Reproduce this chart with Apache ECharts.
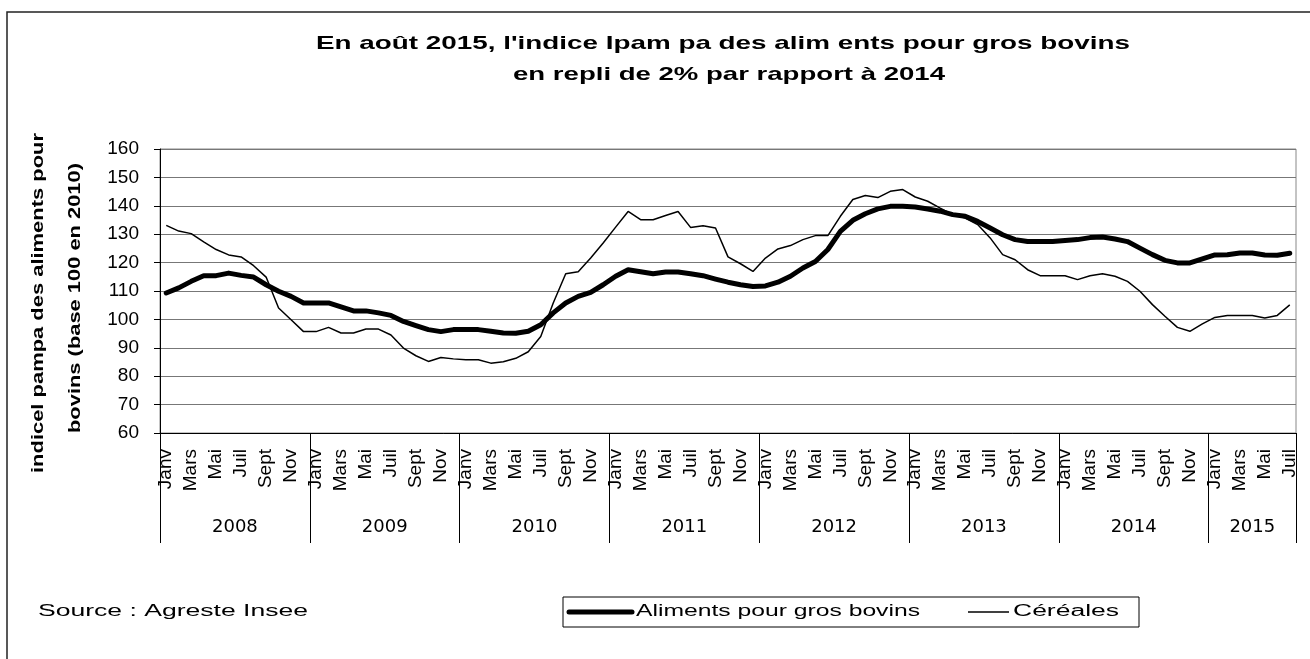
<!DOCTYPE html>
<html>
<head>
<meta charset="utf-8">
<title>Indice Ipampa aliments pour gros bovins</title>
<script src="https://cdn.jsdelivr.net/npm/echarts@6/dist/echarts.min.js"></script>
<style>
    html, body { margin: 0; padding: 0; background: #fff; }
    #chart { width: 1310px; height: 659px; }
</style>
</head>
<body>
<div id="chart"></div>
<script>
// Data (Jan 2008 - Jul 2015)
const years = [2008, 2009, 2010, 2011, 2012, 2013, 2014, 2015];
const monthNames = ['Janv', 'Févr', 'Mars', 'Avr', 'Mai', 'Juin', 'Juil', 'Août', 'Sept', 'Oct', 'Nov', 'Déc'];
const monthsIn2015 = 7;
const seriesNames = ['Aliments pour gros bovins', 'Céréales'];

const aliments = [
    109.3, 111.1, 113.4, 115.4, 115.4, 116.3, 115.5, 114.9, 112.2, 109.9, 108.1, 105.8,
    105.8, 105.8, 104.4, 103.0, 103.0, 102.3, 101.4, 99.3, 97.8, 96.4, 95.7, 96.4,
    96.4, 96.4, 95.8, 95.2, 95.1, 95.8, 98.1, 102.3, 105.8, 108.1, 109.5, 112.2,
    115.2, 117.5, 116.8, 116.1, 116.7, 116.7, 116.1, 115.4, 114.2, 113.1, 112.2, 111.6,
    111.8, 113.1, 115.2, 118.1, 120.4, 124.6, 131.0, 134.9, 137.2, 138.9, 139.8, 139.8,
    139.6, 138.9, 138.1, 136.9, 136.3, 134.5, 132.2, 129.8, 128.1, 127.4, 127.4, 127.4,
    127.8, 128.1, 128.8, 129.0, 128.3, 127.4, 125.1, 122.8, 120.8, 119.9, 119.9, 121.3,
    122.7, 122.8, 123.4, 123.4, 122.7, 122.6, 123.3
];

const cereales = [
    133.1, 131.1, 130.2, 127.3, 124.6, 122.7, 122.0, 118.9, 114.9, 104.0, 99.9, 95.7,
    95.7, 97.2, 95.2, 95.2, 96.6, 96.6, 94.5, 89.9, 87.2, 85.2, 86.6, 86.1,
    85.8, 85.8, 84.6, 85.1, 86.3, 88.6, 94.0, 105.8, 116.1, 116.8, 121.6, 126.9,
    132.5, 138.0, 135.1, 135.1, 136.6, 138.0, 132.4, 133.0, 132.2, 122.0, 119.6, 116.9,
    121.6, 124.8, 126.0, 128.1, 129.5, 129.5, 136.3, 142.2, 143.6, 142.9, 145.1, 145.7,
    143.1, 141.6, 139.2, 136.9, 135.7, 133.4, 128.7, 122.8, 121.0, 117.5, 115.4, 115.4,
    115.4, 114.0, 115.4, 116.1, 115.2, 113.4, 109.9, 105.2, 101.1, 97.2, 95.8, 98.4,
    100.7, 101.4, 101.4, 101.4, 100.5, 101.4, 105.1
];

// Build month categories and year groups
const categories = [];
years.forEach((y, k) => {
    const n = k === years.length - 1 ? monthsIn2015 : 12;
    for (let m = 0; m < n; m++) categories.push(monthNames[m] + ' ' + y);
});
const total = categories.length;
const yearBounds = years.map((y, k) => k * 12).concat([total]);
const yearMids = years.map((y, k) => (yearBounds[k] + yearBounds[k + 1]) / 2);

const plain = 'Liberation Sans, Arial, sans-serif';
const wide = 'DejaVu Sans';

// the original text is letter-spaced; stretch text to the width it takes there
const measureCtx = document.createElement('canvas').getContext('2d');
function stretched(text, x, y, width, size, weight, align, rotation) {
    measureCtx.font = weight + ' ' + size + 'px ' + plain;
    const w = measureCtx.measureText(text).width;
    return {
        type: 'text',
        silent: true,
        x: x, y: y,
        rotation: rotation || 0,
        scaleX: width / w,
        style: {
            text: text,
            fontFamily: plain, fontSize: size, fontWeight: weight, fill: '#000',
            align: align, verticalAlign: 'middle'
        }
    };
}

const chart = echarts.init(document.getElementById('chart'));

chart.setOption({
    animation: false,
    grid: {
        left: 160, right: 14, top: 149, bottom: 226,
        show: true, borderColor: '#888', borderWidth: 1
    },
    xAxis: [{
        type: 'category',
        data: categories,
        boundaryGap: true,
        axisLine: { lineStyle: { color: '#000', width: 1 } },
        axisTick: { interval: 0, inside: true, length: 4, lineStyle: { color: '#000' } },
        axisLabel: {
            interval: 1,
            rotate: 90,
            margin: 16,
            fontFamily: plain,
            fontSize: 19,
            color: '#000',
            formatter: (v) => v.split(' ')[0]
        }
    }, {
        // year groups below the month labels
        type: 'value',
        position: 'bottom',
        min: 0,
        max: total,
        axisLine: { show: false },
        splitLine: { show: false },
        axisTick: { show: true, customValues: yearBounds, length: 110, lineStyle: { color: '#000' } },
        axisLabel: {
            customValues: yearMids,
            margin: 85,
            fontFamily: wide,
            fontSize: 18,
            color: '#000',
            formatter: (v) => String(years[Math.floor(v / 12)])
        }
    }],
    yAxis: {
        type: 'value',
        min: 60,
        max: 160,
        interval: 10,
        axisLine: { show: true, lineStyle: { color: '#000' } },
        axisTick: { show: true, length: 6, lineStyle: { color: '#000' } },
        axisLabel: { margin: 21, fontFamily: plain, fontSize: 19, color: '#000' },
        splitLine: { lineStyle: { color: '#777', width: 1 } }
    },
    series: [{
        name: seriesNames[0],
        type: 'line',
        data: aliments,
        symbol: 'none',
        color: '#000',
        lineStyle: { width: 5, color: '#000', join: 'round', cap: 'round' }
    }, {
        name: seriesNames[1],
        type: 'line',
        data: cereales,
        symbol: 'none',
        color: '#000',
        lineStyle: { width: 1.5, color: '#000' }
    }],
    graphic: [
        // outer frame
        {
            type: 'rect', silent: true,
            shape: { x: 7, y: 12, width: 1320, height: 670 },
            style: { fill: 'none', stroke: '#222', lineWidth: 1.5 }
        },
        // title
        stretched("En août 2015, l'indice Ipam pa des alim ents pour gros bovins", 723, 44, 814, 19, 'bold', 'center'),
        stretched('en repli de 2% par rapport à 2014', 729, 75, 432, 19, 'bold', 'center'),
        // y axis name, two lines
        stretched('indicel pampa des aliments pour', 38, 303, 340, 17, 'bold', 'center', Math.PI / 2),
        stretched('bovins (base 100 en 2010)', 75, 298, 270, 17, 'bold', 'center', Math.PI / 2),
        // source
        stretched('Source : Agreste Insee', 38, 612, 270, 16, 'normal', 'left'),
        // legend box
        {
            type: 'rect', silent: true,
            shape: { x: 563, y: 597, width: 576, height: 30 },
            style: { fill: '#fff', stroke: '#000', lineWidth: 1 }
        },
        {
            type: 'line', silent: true,
            shape: { x1: 569, y1: 612, x2: 632, y2: 612 },
            style: { stroke: '#000', lineWidth: 5, lineCap: 'round' }
        },
        stretched(seriesNames[0], 636, 612, 284, 16, 'normal', 'left'),
        {
            type: 'line', silent: true,
            shape: { x1: 968, y1: 612, x2: 1009, y2: 612 },
            style: { stroke: '#000', lineWidth: 1.5 }
        },
        stretched(seriesNames[1], 1013, 612, 106, 16, 'normal', 'left')
    ]
});
</script>
</body>
</html>
